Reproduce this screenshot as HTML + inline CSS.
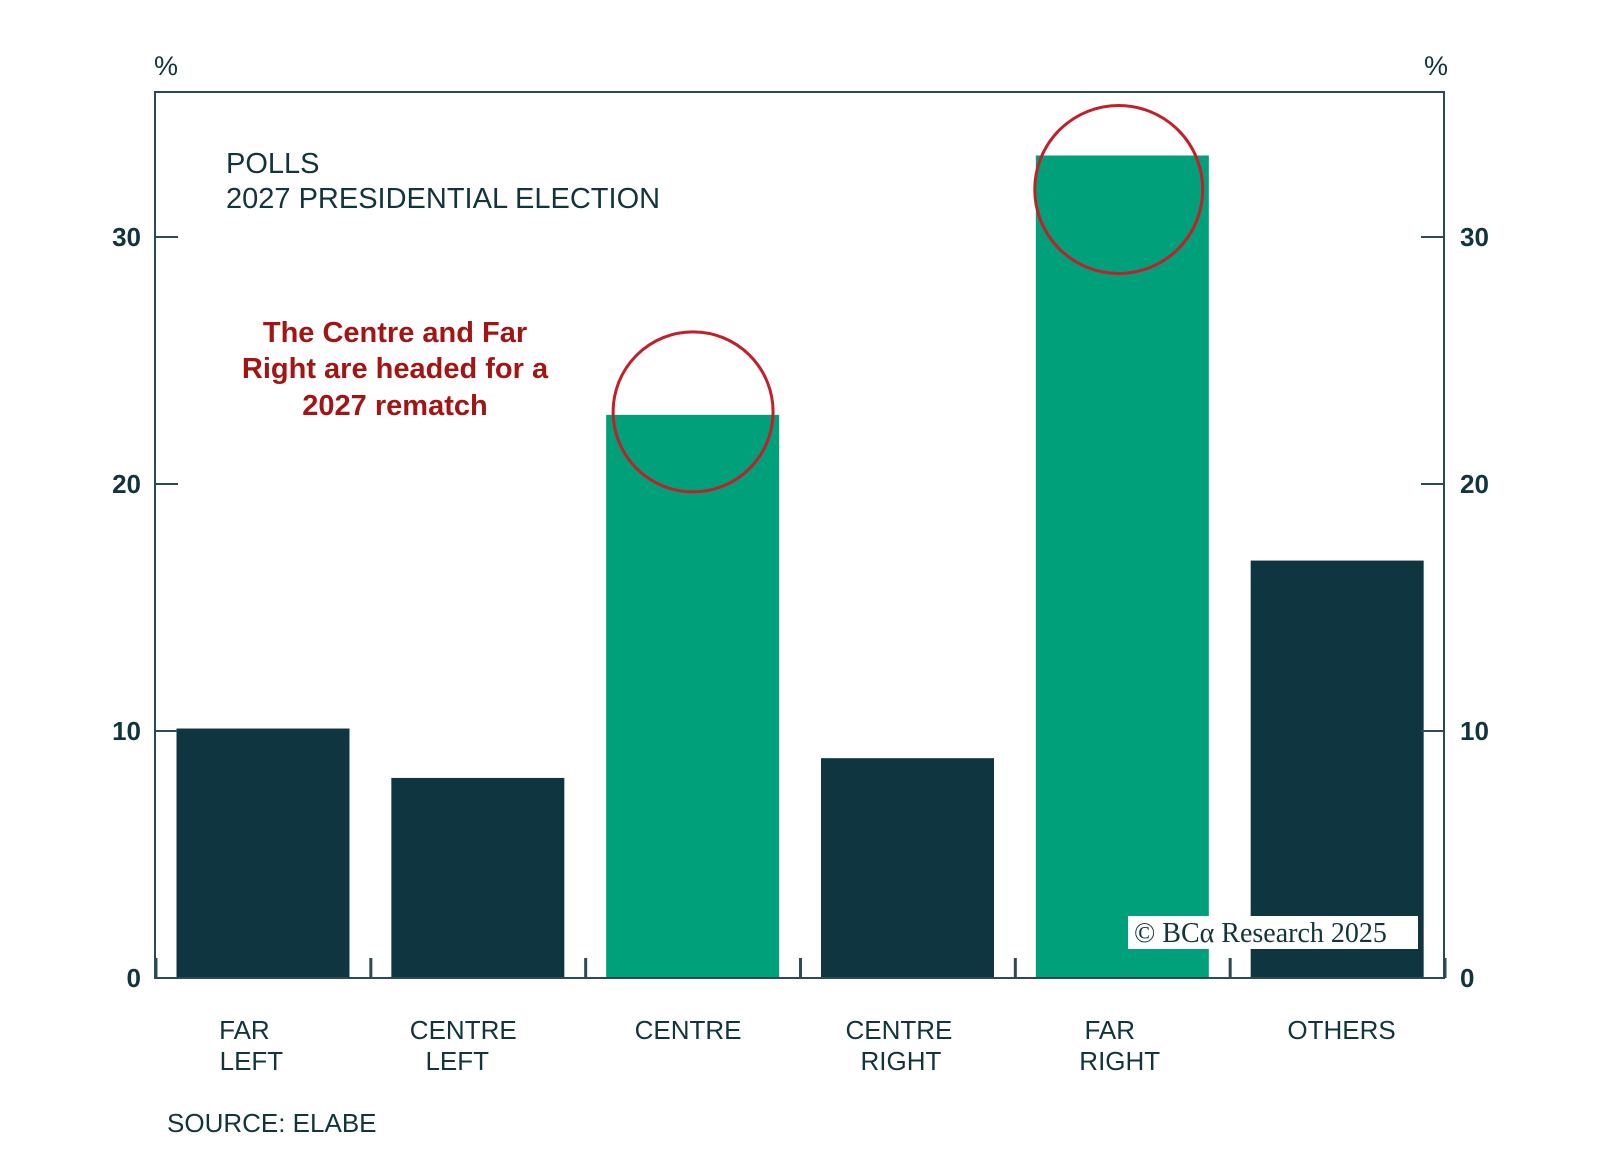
<!DOCTYPE html>
<html><head><meta charset="utf-8"><style>
html,body{margin:0;padding:0;background:#fff;width:1600px;height:1150px;overflow:hidden}
svg{display:block}
text{font-family:"Liberation Sans",sans-serif}
</style></head><body>
<svg id="chart" width="1600" height="1150">
</svg>
<script>
const categories=[["FAR","LEFT"],["CENTRE","LEFT"],["CENTRE"],["CENTRE","RIGHT"],["FAR","RIGHT"],["OTHERS"]];
const values=[10.1,8.1,22.8,8.9,33.3,16.9];
const highlight=[false,false,true,false,true,false];
const ticks=[0,10,20,30];
const circled=[2,4];
const labelShift=[[-18,-11],[-14,-20],[-4],[-8,-6],[-12,-2],[5]];
const L=155,R=1444,T=92,B=978;
const y=v=>B-v*24.7;
const bw=(R-L)/categories.length;
const x=i=>L+i*bw;
const svg=document.getElementById('chart');
const NS='http://www.w3.org/2000/svg';
function mk(tag,attrs,txt){const e=document.createElementNS(NS,tag);for(const k in attrs)e.setAttribute(k,attrs[k]);if(txt!==undefined)e.textContent=txt;svg.appendChild(e);return e;}
const dark='#0f3640',green='#00a07a',ink='#12343c';
values.forEach((v,i)=>{
 const r=mk('rect',{x:x(i)+21.5,y:y(v),width:173,height:B-y(v),fill:highlight[i]?green:dark});
 
 
 categories[i].forEach((ln,j)=>{
  const t=mk('text',{x:x(i)+bw/2+labelShift[i][j],y:1039+j*31,'text-anchor':'middle','font-size':26,fill:ink},ln);
  
  
 });
});
const fr=mk('rect',{x:L,y:T,width:R-L,height:B-T,fill:'none',stroke:'#2c4a52','stroke-width':2});

for(let i=0;i<=categories.length;i++){const t=mk('line',{x1:x(i)+1,x2:x(i)+1,y1:B,y2:B-20,stroke:'#2c4a52','stroke-width':3});
 }
ticks.forEach(v=>{
 mk('line',{x1:L,x2:L+23,y1:y(v),y2:y(v),stroke:'#2c4a52','stroke-width':2});
 mk('line',{x1:R-23,x2:R,y1:y(v),y2:y(v),stroke:'#2c4a52','stroke-width':2});
 const a=mk('text',{x:141,y:y(v)+9,'text-anchor':'end','font-size':26,'font-weight':'bold',fill:ink},v);
 
 const b=mk('text',{x:1460,y:y(v)+9,'font-size':26,'font-weight':'bold',fill:ink},v);
 
});
circled.forEach(i=>{
 const c=mk('circle',{cx:x(i)+bw/2+(i===4?-3:1),cy:y(values[i])+(i===4?34:-3),r:i===4?84:80,fill:'none',stroke:'#c0202a','stroke-width':3});
 
});
</script>
<svg style="position:absolute;left:0;top:0" width="1600" height="1150">
<text x="154" y="75" font-size="27" fill="#12343c">%</text>
<text x="1424" y="75" font-size="27" fill="#12343c">%</text>
<text x="226" y="173" font-size="29" fill="#12343c">POLLS</text>
<text x="226" y="208" font-size="29" fill="#12343c">2027 PRESIDENTIAL ELECTION</text>
<g font-size="29" fill="#a31515" font-weight="bold" text-anchor="middle">
<text x="395" y="342">The Centre and Far</text>
<text x="395" y="378">Right are headed for a</text>
<text x="395" y="415">2027 rematch</text></g>
<rect x="1128" y="916" width="290" height="33" fill="#fff"/>
<text x="1134" y="942" font-size="28" fill="#12343c" style="font-family:'Liberation Serif',serif">© BCα Research 2025</text>
<text x="167" y="1132" font-size="26" fill="#12343c">SOURCE: ELABE</text>
</svg>
</body></html>
